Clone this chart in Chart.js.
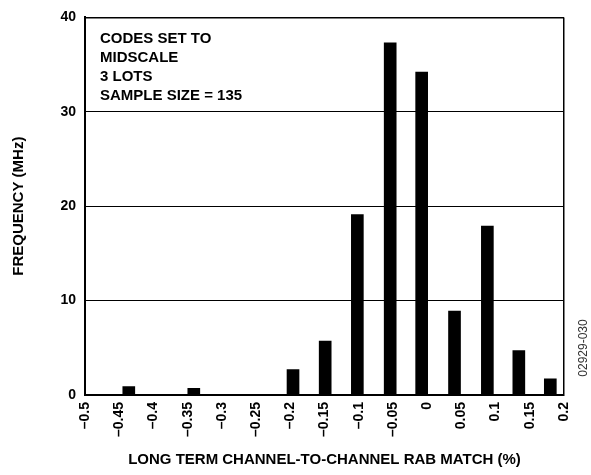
<!DOCTYPE html>
<html lang="en">
  <head>
    <meta charset="UTF-8" />
    <title>Channel-to-Channel RAB Match</title>
    <script src="https://cdn.jsdelivr.net/npm/chart.js"></script>
    <style>
      html, body { margin: 0; padding: 0; background: #fff; }
    </style>
  </head>
  <body>
    <canvas id="rabChart" width="591" height="475"></canvas>
    <script>
      const binCentres = [-0.436, -0.341, -0.196, -0.149, -0.102, -0.054, -0.008, 0.04, 0.088, 0.134, 0.18];
      const frequency = [0.9, 0.7, 2.7, 5.7, 19.1, 37.3, 34.2, 8.9, 17.9, 4.7, 1.7];
      const xTicks = [-0.5, -0.45, -0.4, -0.35, -0.3, -0.25, -0.2, -0.15, -0.1, -0.05, 0, 0.05, 0.1, 0.15, 0.2];
      const yTicks = [0, 10, 20, 30, 40];
      const noteLines = ["CODES SET TO", "MIDSCALE", "3 LOTS", "SAMPLE SIZE = 135"];
      const figureId = "02929-030";

      const FONT = "'Liberation Sans', Arial, Helvetica, sans-serif";

      function fmtTick(v) {
        return String(Math.round(v * 100) / 100).replace("-", "\u2013");
      }

      const notePlugin = {
        id: "notes",
        afterDraw(chart) {
          const { ctx, chartArea } = chart;
          ctx.save();
          ctx.fillStyle = "#000";
          ctx.font = "bold 15px " + FONT;
          ctx.textBaseline = "alphabetic";
          noteLines.forEach((line, i) => {
            ctx.fillText(line, chartArea.left + 15, chartArea.top + 26 + i * 19);
          });
          // small figure number at the right edge
          ctx.font = "12px " + FONT;
          ctx.fillStyle = "#333";
          ctx.translate(chartArea.right + 20, chartArea.bottom - 47);
          ctx.rotate(-Math.PI / 2);
          ctx.textAlign = "center";
          ctx.textBaseline = "middle";
          ctx.fillText(figureId, 0, 0);
          ctx.restore();
        },
      };

      const ctx = document.getElementById("rabChart").getContext("2d");
      new Chart(ctx, {
        type: "bar",
        data: {
          datasets: [
            {
              data: binCentres.map((x, i) => ({ x: x, y: frequency[i] })),
              backgroundColor: "#000",
              borderWidth: 0,
              barThickness: 12,
            },
          ],
        },
        options: {
          responsive: false,
          animation: false,
          layout: { padding: { top: 13, right: 27, left: 0, bottom: 0 } },
          plugins: {
            legend: { display: false },
            tooltip: { enabled: false },
          },
          scales: {
            x: {
              type: "linear",
              min: -0.5,
              max: 0.2,
              offset: false,
              afterBuildTicks: (s) => {
                s.ticks = xTicks.map((v) => ({ value: v }));
              },
              afterFit: (s) => {
                s.height = 80;
              },
              grid: {
                offset: false,
                drawTicks: false,
                lineWidth: 1.5,
                color: (c) => (c.tick && c.tick.value === 0.2 ? "#000" : "rgba(0,0,0,0)"),
              },
              border: { color: "#000", width: 2 },
              ticks: {
                autoSkip: false,
                minRotation: 90,
                maxRotation: 90,
                padding: 7,
                color: "#000",
                font: { family: FONT, size: 14, weight: "bold" },
                callback: (v) => fmtTick(v),
              },
              title: {
                display: true,
                text: "LONG TERM CHANNEL-TO-CHANNEL RAB MATCH (%)",
                color: "#000",
                font: { family: FONT, size: 15, weight: "bold" },
                padding: { top: 0, bottom: 6 },
              },
            },
            y: {
              min: 0,
              max: 40,
              afterBuildTicks: (s) => {
                s.ticks = yTicks.map((v) => ({ value: v }));
              },
              afterFit: (s) => {
                s.width = 85;
              },
              grid: {
                drawTicks: false,
                color: "#000",
                lineWidth: (c) => (c.tick && c.tick.value === 40 ? 1.5 : 1),
              },
              border: { color: "#000", width: 2 },
              ticks: {
                padding: 9,
                color: "#000",
                font: { family: FONT, size: 14, weight: "bold" },
              },
              title: {
                display: true,
                text: "FREQUENCY (MHz)",
                color: "#000",
                font: { family: FONT, size: 15, weight: "bold" },
                padding: { top: 10, bottom: 0 },
              },
            },
          },
        },
        plugins: [notePlugin],
      });
    </script>
  </body>
</html>
